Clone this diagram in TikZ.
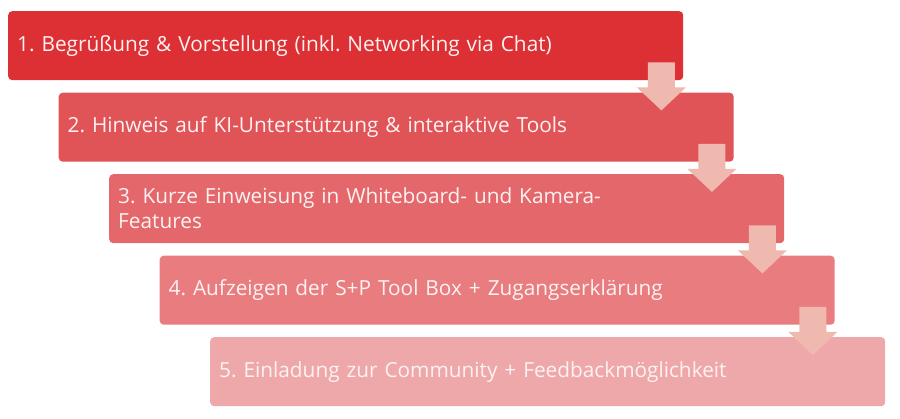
\documentclass[tikz,border=0pt]{standalone}
\usepackage{fontspec}
\setmainfont{Open Sans}
\usetikzlibrary{calc}
\frenchspacing

\definecolor{stepa}{HTML}{DC3034}
\definecolor{stepb}{HTML}{E05458}
\definecolor{stepc}{HTML}{E4686B}
\definecolor{stepd}{HTML}{E87C7E}
\definecolor{stepe}{HTML}{EFA8AA}
\definecolor{arrowpink}{HTML}{F0B9AF}
\definecolor{steptext}{HTML}{FDF2F2}

\newcommand{\sn}{\node[stepbox]}
\newcommand{\rowx}[1]{8+#1*50.5}
\newcommand{\rowy}[1]{408-#1*81.5}
\newcommand{\steparrow}[1]{%
    \fill[arrowpink] ($(#1.south east)+(-35.5,18)$) -- ++(27,0) -- ++(0,-25)
        -- ++(11,0) -- ++(-24.5,-23) -- ++(-24.5,23) -- ++(11,0) -- cycle;}

\begin{document}
\begin{tikzpicture}[x=1pt, y=1pt,
        stepbox/.style={anchor=north west, rounded corners=4pt, minimum height=69pt,
            text width=657pt, inner xsep=9pt, align=left, text=steptext,
            font=\fontsize{20.8}{25}\selectfont}]
            \useasboundingbox (0,0) rectangle (900,419);

            \sn[fill=stepa] (s1) at (\rowx{0}, \rowy{0}) {1. Begrüßung \& Vorstellung (inkl. Networking via Chat)};
            \sn[fill=stepb] (s2) at (\rowx{1}, \rowy{1}) {2. Hinweis auf KI-Unterstützung \& interaktive Tools};
            \sn[fill=stepc] (s3) at (\rowx{2}, \rowy{2}) {3. Kurze Einweisung in Whiteboard- und Kamera-\\Features};
            \sn[fill=stepd] (s4) at (\rowx{3}, \rowy{3}) {4. Aufzeigen der S+P Tool Box + Zugangserklärung};
            \sn[fill=stepe] (s5) at (\rowx{4}, \rowy{4}) {5. Einladung zur Community + Feedbackmöglichkeit};

            \steparrow{s1}
            \steparrow{s2}
            \steparrow{s3}
            \steparrow{s4}
        \end{tikzpicture}
\end{document}
